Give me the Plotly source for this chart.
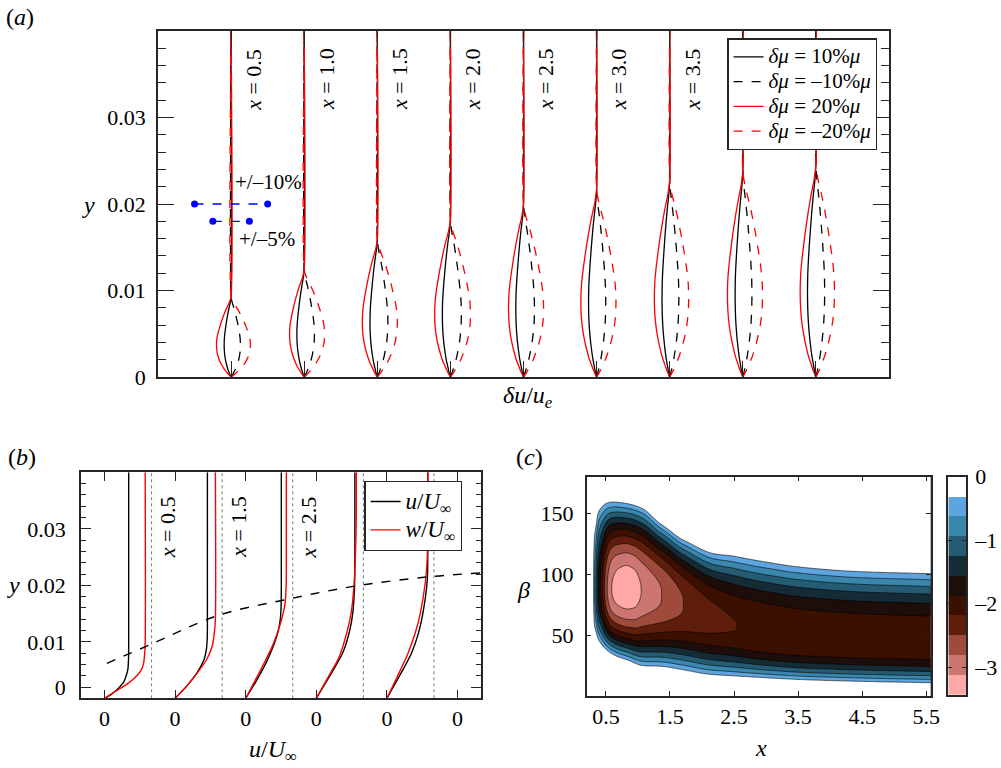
import numpy as np
import plotly.graph_objects as go

FIG_W, FIG_H = 1001, 768
FONT = "Liberation Serif"
INK = "#262626"
RED = "#ff0000"
BLUE = "#0000ff"

# ---------------- panel (a): distortion profiles du/u_e ----------------
a_stations = [0.5, 1.0, 1.5, 2.0, 2.5, 3.0, 3.5, 4.0, 4.5]
a_station_labels = ["0.5", "1.0", "1.5", "2.0", "2.5", "3.0", "3.5"]
a_bulge_top = [0.0093, 0.0124, 0.0159, 0.0182, 0.0200, 0.0217, 0.0228, 0.0238, 0.0246]
# peak distortion (% of u_e) per station for each viscosity perturbation
a_du_p10 = [-1.9, -2.0, -2.0, -2.2, -2.1, -2.2, -2.1, -2.1, -2.3]
a_du_m10 = [2.55, 2.8, 2.9, 3.0, 3.0, 2.5, 2.5, 2.5, 2.4]
a_du_p20 = [-4.0, -4.0, -4.1, -4.3, -4.1, -4.3, -4.2, -4.2, -4.3]
a_du_m20 = [5.3, 5.6, 5.5, 5.5, 5.5, 5.3, 5.2, 5.4, 5.1]
# normalised profile shape (height / bulge height, distortion / peak)
a_shape_eta = [0, 0.03, 0.064, 0.10, 0.149, 0.20, 0.255, 0.32, 0.40, 0.48, 0.55, 0.62, 0.70, 0.78, 0.85, 0.93, 1.0]
a_shape_f = [0, 0.17, 0.32, 0.48, 0.64, 0.78, 0.89, 0.97, 1.0, 0.97, 0.89, 0.78, 0.64, 0.48, 0.32, 0.11, 0]
a_scalebar_pct = [10, 5]
a_scalebar_y = [0.020, 0.018]
a_scalebar_text = ["+/–10%", "+/–5%"]
A_UNIT = 0.05          # axis units per 1 % of u_e (stations are 1 unit apart)
Y_TOP = 0.04

# ---------------- panel (b): u and w profiles ----------------
b_station_labels = ["0.5", "1.5", "2.5"]
b_offsets = [0.0, 1.5, 3.0, 4.5, 6.0]
b_u_y = [
    [0, 0.00078, 0.0018, 0.0028, 0.0040, 0.0052, 0.0069, 0.0087, 0.04],
    [0, 0.0022, 0.0046, 0.0070, 0.0087, 0.0105, 0.0125, 0.04],
    [0, 0.003, 0.0064, 0.0095, 0.0117, 0.014, 0.0163, 0.02, 0.04],
    [0, 0.004, 0.0081, 0.012, 0.0152, 0.0199, 0.025, 0.04],
    [0, 0.004, 0.0079, 0.0115, 0.015, 0.0209, 0.0279, 0.04],
]
b_u_val = [
    [0, 0.157, 0.297, 0.403, 0.461, 0.497, 0.51, 0.513, 0.513],
    [0, 0.25, 0.47, 0.62, 0.665, 0.682, 0.686, 0.686],
    [0, 0.22, 0.44, 0.60, 0.686, 0.735, 0.752, 0.757, 0.757],
    [0, 0.29, 0.565, 0.71, 0.777, 0.813, 0.82, 0.82],
    [0, 0.27, 0.518, 0.67, 0.764, 0.858, 0.87, 0.87],
]
b_w_y = [
    [0, 0.0012, 0.0025, 0.0037, 0.0049, 0.0061, 0.0075, 0.0099, 0.04],
    [0, 0.0022, 0.0046, 0.0070, 0.0093, 0.0117, 0.0140, 0.04],
    [0, 0.003, 0.0064, 0.0095, 0.0128, 0.0163, 0.0199, 0.024, 0.04],
    [0, 0.004, 0.0075, 0.012, 0.0152, 0.0199, 0.0258, 0.032, 0.04],
    [0, 0.004, 0.0079, 0.0115, 0.015, 0.0209, 0.025, 0.03, 0.04],
]
b_w_val = [
    [0, 0.227, 0.476, 0.652, 0.773, 0.828, 0.849, 0.864, 0.864],
    [0, 0.25, 0.48, 0.68, 0.79, 0.835, 0.856, 0.856],
    [0, 0.19, 0.403, 0.58, 0.722, 0.828, 0.86, 0.864, 0.864],
    [0, 0.27, 0.495, 0.66, 0.743, 0.80, 0.834, 0.85, 0.85],
    [0, 0.23, 0.446, 0.60, 0.709, 0.822, 0.858, 0.87, 0.87],
]
b_delta_x = [0.05, 1.0, 2.39, 3.87, 5.36, 6.88, 8.0]
b_delta_y = [0.0062, 0.0096, 0.0146, 0.0175, 0.0199, 0.0215, 0.0222]

# ---------------- panel (c): contour map ----------------
c_levels = [-3.4375, -3.125, -2.8125, -2.5, -2.1875, -1.875, -1.5625, -1.25, -0.9375, -0.625, -0.3125, 0.0]
c_colors = ["#ffa8a8", "#cb7670", "#9e4b3b", "#5f1d0c", "#3b1000", "#1d0e0b",
            "#152c37", "#255c73", "#3a87ad", "#5ea5df", "#ffffff"]
# ridge amplitude along x
c_amp_x = [0.20, 0.29, 0.31, 0.34, 0.37, 0.41, 0.45, 0.48, 0.52, 0.59, 0.70, 0.82, 0.94, 1.05,
           1.37, 1.71, 2.10, 2.52, 3.00, 3.50, 4.50, 5.57]
c_amp = [0, 0, -0.4, -0.9, -1.4, -1.875, -2.19, -2.5, -2.81, -3.125, -3.29, -3.35, -3.29, -3.125,
         -2.8125, -2.5, -2.3, -2.19, -2.16, -2.13, -2.11, -2.10]
# ridge geometry in beta along x
c_geo_x = [0.20, 0.34, 0.38, 0.59, 0.82, 1.05, 1.37, 1.71, 2.10, 2.52, 3.00, 3.50, 4.50, 5.57]
c_core_hi = [89, 89, 89, 88, 88, 88, 86, 79, 68, 60, 54, 51, 48, 46.4]
c_core_lo = [87, 87, 87, 87, 87, 85, 80, 72, 62, 55, 49, 45, 42, 40.4]
c_width_hi = [60, 60, 69, 75, 73.5, 70, 58, 52.4, 53.8, 58.9, 60.5, 59.5, 58.5, 58.5]
c_width_lo = [41, 41, 45, 55, 60, 63, 59, 54, 47.4, 41.6, 36.8, 34, 32.5, 32]
c_xticks = [0.5, 1.5, 2.5, 3.5, 4.5, 5.5]
cb_ticks = [0, -1, -2, -3]
cb_ticktext = ["0", "–1", "–2", "–3"]


def pchip(xk, yk, x):
    xk = np.asarray(xk, float)
    yk = np.asarray(yk, float)
    h = np.diff(xk)
    d = np.diff(yk) / h
    m = np.zeros_like(yk)
    for k in range(1, len(xk) - 1):
        if d[k - 1] * d[k] > 0:
            w1 = 2 * h[k] + h[k - 1]
            w2 = h[k] + 2 * h[k - 1]
            m[k] = (w1 + w2) / (w1 / d[k - 1] + w2 / d[k])
    m[0] = d[0]
    m[-1] = d[-1]
    i = np.clip(np.searchsorted(xk, x) - 1, 0, len(xk) - 2)
    t = (x - xk[i]) / h[i]
    return ((2 * t**3 - 3 * t**2 + 1) * yk[i] + (t**3 - 2 * t**2 + t) * h[i] * m[i]
            + (-2 * t**3 + 3 * t**2) * yk[i + 1] + (t**3 - t**2) * h[i] * m[i + 1])


def dom_x(p0, p1):
    return [p0 / FIG_W, p1 / FIG_W]


def dom_y(p_top, p_bot):
    return [1 - p_bot / FIG_H, 1 - p_top / FIG_H]


def big(text, size):
    return '<span style="font-size:%dpx">%s</span>' % (size, text)


fig = go.Figure()

# ---- panel (a) traces ----
a_series = [
    (a_du_p10, "black", "solid", "<i>δμ</i> = 10%<i>μ</i>"),
    (a_du_m10, "black", "dash", "<i>δμ</i> = –10%<i>μ</i>"),
    (a_du_p20, RED, "solid", "<i>δμ</i> = 20%<i>μ</i>"),
    (a_du_m20, RED, "dash", "<i>δμ</i> = –20%<i>μ</i>"),
]
for amps, col, dash, name in a_series:
    xs, ys = [], []
    for i, (amp, ytop) in enumerate(zip(amps, a_bulge_top)):
        xs += [i + A_UNIT * amp * f for f in a_shape_f] + [i, None]
        ys += [ytop * e for e in a_shape_eta] + [Y_TOP, None]
    fig.add_trace(go.Scatter(x=xs, y=ys, mode="lines", name=big(name, 21),
                             line=dict(color=col, width=1.3, dash=dash, shape="spline", smoothing=0.6),
                             xaxis="x", yaxis="y", legend="legend", hoverinfo="skip"))
for pct, yv in zip(a_scalebar_pct, a_scalebar_y):
    fig.add_trace(go.Scatter(x=[-pct * A_UNIT, pct * A_UNIT], y=[yv, yv], mode="lines+markers",
                             line=dict(color=BLUE, width=1.3, dash="dash"),
                             marker=dict(color=BLUE, size=7), showlegend=False,
                             xaxis="x", yaxis="y", hoverinfo="skip"))

# ---- panel (b) traces ----
for off in b_offsets:
    fig.add_trace(go.Scatter(x=[off + 1, off + 1], y=[0, Y_TOP], mode="lines", showlegend=False,
                             line=dict(color="#777777", width=1, dash="dot"),
                             xaxis="x2", yaxis="y2", hoverinfo="skip"))
for yy, vv, col, name in [(b_u_y, b_u_val, "black", "<i>u</i>/<i>U</i><sub>∞</sub>"),
                          (b_w_y, b_w_val, RED, "<i>w</i>/<i>U</i><sub>∞</sub>")]:
    xs, ys = [], []
    for off, yv, uv in zip(b_offsets, yy, vv):
        xs += [off + u for u in uv] + [None]
        ys += list(yv) + [None]
    fig.add_trace(go.Scatter(x=xs, y=ys, mode="lines", name=big(name, 23),
                             line=dict(color=col, width=1.4, shape="spline", smoothing=0.7),
                             xaxis="x2", yaxis="y2", legend="legend2", hoverinfo="skip"))
fig.add_trace(go.Scatter(x=b_delta_x, y=b_delta_y, mode="lines", showlegend=False,
                         line=dict(color="black", width=1.4, dash="dash", shape="spline"),
                         xaxis="x2", yaxis="y2", hoverinfo="skip"))

# ---- panel (c) contour ----
xg = np.linspace(0.2, 5.57, 320)
bg = np.linspace(0, 180, 241)
amp = np.minimum(pchip(c_amp_x, c_amp, xg), 0)
chi = pchip(c_geo_x, c_core_hi, xg)
clo = pchip(c_geo_x, c_core_lo, xg)
whi = pchip(c_geo_x, c_width_hi, xg)
wlo = pchip(c_geo_x, c_width_lo, xg)
B = bg[:, None]
s2 = (np.clip(B - chi[None, :], 0, None) / whi[None, :]) ** 2 + \
     (np.clip(clo[None, :] - B, 0, None) / wlo[None, :]) ** 2
Z = np.round(amp[None, :] * np.clip(1 - s2, 0, None), 4)
cscale = [[k / 10, c] for k, c in enumerate(c_colors)]
fig.add_trace(go.Contour(x=xg, y=bg, z=Z, autocontour=False,
                         contours=dict(start=c_levels[1], end=c_levels[-2], size=c_levels[2] - c_levels[1],
                                       coloring="fill", showlines=True),
                         line=dict(color="black", width=0.6), colorscale=cscale, showscale=False,
                         xaxis="x3", yaxis="y3", hoverinfo="skip"))
# colour bar drawn as a heatmap strip
fig.add_trace(go.Heatmap(x=[0, 1], y=c_levels, z=[[k] for k in range(len(c_colors))],
                         colorscale=cscale, zmin=0, zmax=len(c_colors) - 1, showscale=False,
                         xaxis="x4", yaxis="y4", hoverinfo="skip"))

axis_common = dict(showline=True, linecolor=INK, linewidth=1.5, mirror="ticks", ticks="inside",
                   tickcolor=INK, tickwidth=1.3, showgrid=False, zeroline=False, automargin=False,
                   tickfont=dict(family=FONT, size=22, color="black"))

fig.update_layout(
    template="none",
    width=FIG_W, height=FIG_H, margin=dict(l=0, r=0, t=0, b=0, pad=0, autoexpand=False),
    paper_bgcolor="white", plot_bgcolor="white",
    font=dict(family=FONT, size=20, color="black"),
    xaxis=dict(axis_common, domain=dom_x(158, 889), range=[-1, 9], tickvals=list(range(len(a_stations))),
               showticklabels=False, ticklen=16, anchor="y"),
    yaxis=dict(axis_common, domain=dom_y(31, 377), range=[0, Y_TOP], tickvals=[0, 0.01, 0.02, 0.03],
               ticktext=["0", "0.01", "0.02", "0.03"], ticklen=16, anchor="x", ticklabelstandoff=6,
               minor=dict(ticks="inside", ticklen=8, dtick=0.002, tick0=0, tickcolor=INK, tickwidth=1.3,
                          showgrid=False)),
    xaxis2=dict(axis_common, domain=dom_x(81, 481), range=[-0.5, 8.0], tickvals=[0, 1.5, 3, 4.5, 6, 7.5],
                ticktext=["0"] * 6, ticklen=9, anchor="y2"),
    yaxis2=dict(axis_common, domain=dom_y(472.3, 698.3), range=[0, Y_TOP],
                tickvals=[0.002, 0.01, 0.02, 0.03], ticktext=["0", "0.01", "0.02", "0.03"], ticklen=10,
                anchor="x2", ticklabelstandoff=9,
                minor=dict(ticks="inside", ticklen=5, dtick=0.002, tick0=0, tickcolor=INK, tickwidth=1.3,
                           showgrid=False)),
    xaxis3=dict(axis_common, domain=dom_x(586.7, 930.7), range=[0.2, 5.57], tickvals=c_xticks,
                ticktext=[str(v) for v in c_xticks], ticklen=5, anchor="y3"),
    yaxis3=dict(axis_common, domain=dom_y(476.7, 696), range=[0, 180], tickvals=[50, 100, 150],
                ticklen=5, anchor="x3", ticklabelstandoff=7),
    xaxis4=dict(axis_common, domain=dom_x(948.3, 966), range=[0, 1], showticklabels=False, ticks="",
                anchor="y4"),
    yaxis4=dict(axis_common, domain=dom_y(476.7, 695), range=[c_levels[0], 0], tickvals=cb_ticks,
                ticktext=cb_ticktext, side="right", ticklen=4, anchor="x4", ticklabelstandoff=3),
    legend=dict(x=727.3 / FIG_W, y=1 - 38.3 / FIG_H, xanchor="left", yanchor="top", bgcolor="white",
                bordercolor=INK, borderwidth=1.3, font=dict(family=FONT, size=16.7), tracegroupgap=0),
    legend2=dict(x=364.3 / FIG_W, y=1 - 481 / FIG_H, xanchor="left", yanchor="top", bgcolor="white",
                 bordercolor=INK, borderwidth=1.3, font=dict(family=FONT, size=19.5), tracegroupgap=0),
)

ann = []


def paper_text(text, px, py, size=20, angle=0):
    ann.append(dict(text=text, x=px / FIG_W, y=1 - py / FIG_H, xref="paper", yref="paper",
                    showarrow=False, xanchor="center", yanchor="middle", textangle=angle,
                    font=dict(family=FONT, size=size, color="black")))


paper_text("(<i>a</i>)", 20, 17, 24)
paper_text("(<i>b</i>)", 22, 457, 24)
paper_text("(<i>c</i>)", 529, 457, 24)
paper_text("<i>y</i>", 88, 205, 24)
paper_text("<i>δu</i>/<i>u</i><sub><i>e</i></sub>", 528, 397, 24)
paper_text("<i>y</i>", 13, 585, 24)
paper_text("<i>u</i>/<i>U</i><sub>∞</sub>", 273, 751, 24)
paper_text("<i>β</i>", 523, 590, 24)
paper_text("<i>x</i>", 761, 748, 24)

for i, lab in enumerate(a_station_labels):
    ann.append(dict(text="<i>x</i> = " + lab, x=i + 0.305, y=0.0344, xref="x", yref="y", showarrow=False,
                    textangle=-90, xanchor="center", yanchor="middle",
                    font=dict(family=FONT, size=22, color="black")))
for txt, yv, dx in zip(a_scalebar_text, [0.0225, 0.0159], [0.02, 0.08]):
    ann.append(dict(text=txt, x=dx, y=yv, xref="x", yref="y", showarrow=False, xanchor="left",
                    yanchor="middle", font=dict(family=FONT, size=21, color="black")))
for off, lab in zip(b_offsets, b_station_labels):
    ann.append(dict(text="<i>x</i> = " + lab, x=off + 1.33, y=0.0303, xref="x2", yref="y2", showarrow=False,
                    textangle=-90, xanchor="center", yanchor="middle",
                    font=dict(family=FONT, size=22, color="black")))
fig.update_layout(annotations=ann)

fig.write_html("out.html", config={"displayModeBar": False},
               post_script="document.body.style.margin='0px';")
